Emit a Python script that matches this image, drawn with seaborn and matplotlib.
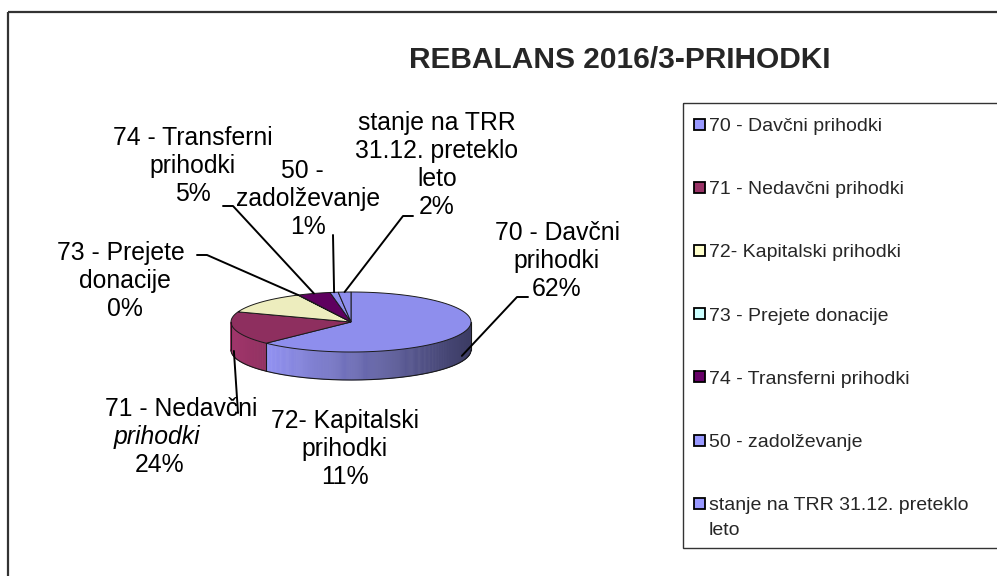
import numpy as np
import matplotlib
matplotlib.use('Agg')
import matplotlib.pyplot as plt
from matplotlib.patches import Polygon, Rectangle
from matplotlib.collections import PolyCollection
import seaborn as sns

# Data
categories = ['70 - Davčni prihodki', '71 - Nedavčni prihodki', '72- Kapitalski prihodki',
              '73 - Prejete donacije', '74 - Transferni prihodki', '50 - zadolževanje',
              'stanje na TRR 31.12. preteklo leto']
slice_share = [62.5, 18.0, 12.2, 0.1, 4.4, 1.1, 1.7]   # size of the drawn slices
shown_pct = [62, 24, 11, 0, 5, 1, 2]                   # percentages printed on labels
slice_colors = ['#9999FF', '#993366', '#FFFFCC', '#CCFFFF', '#660066', '#9999FF', '#9999FF']
label_lines = [['70 - Davčni', 'prihodki'],
               ['71 - Nedavčni', 'prihodki'],
               ['72- Kapitalski', 'prihodki'],
               ['73 - Prejete', 'donacije'],
               ['74 - Transferni', 'prihodki'],
               ['50 -', 'zadolževanje'],
               ['stanje na TRR', '31.12. preteklo', 'leto']]
legend_lines = [['70 - Davčni prihodki'], ['71 - Nedavčni prihodki'], ['72- Kapitalski prihodki'],
                ['73 - Prejete donacije'], ['74 - Transferni prihodki'], ['50 - zadolževanje'],
                ['stanje na TRR 31.12. preteklo', 'leto']]
title = 'REBALANS 2016/3-PRIHODKI'

# Layout (pixel coordinates, y grows downwards)
label_x = [[557], [181, 157, 160], [345], [121, 125, 125], [193], [302, 308, 308], [437]]
label_y0 = [240, 416, 428, 260, 145, 178, 130]
line_step = 28
leader_pts = [[(517, 297), (528, 297)], [(238, 413)], None, [(207, 255), (197, 255)],
              [(233, 206), (223, 206)], [(333, 235)], [(403, 216), (413, 216)]]
cx, cy, rx, ry, depth = 351, 322, 120, 30, 28

sns.set_theme(style='white')
plt.rcParams['font.family'] = ['Liberation Sans', 'DejaVu Sans']

fig = plt.figure(figsize=(9.97, 5.76), dpi=100)
ax = fig.add_axes([0, 0, 1, 1])
ax.set_xlim(0, 997)
ax.set_ylim(576, 0)
ax.axis('off')

colors = sns.color_palette(slice_colors)
fr = np.array(slice_share) / sum(slice_share)
ends = 90 - 360 * np.cumsum(fr)
starts = np.r_[90, ends[:-1]]


def ell(t, dy=0.0):
    t = np.radians(t)
    return cx + rx * np.cos(t), cy - ry * np.sin(t) + dy


def shade(c, f):
    return tuple(min(1, v * f) for v in c)


# side walls (front half only)
polys, fcs = [], []
for i in range(len(fr)):
    t0, t1 = max(ends[i], -180), min(starts[i], 0)
    if t1 <= t0:
        continue
    ts = np.linspace(t0, t1, max(2, int((t1 - t0) * 2)))
    for a, b in zip(ts[:-1], ts[1:]):
        xa, ya = ell(a)
        xb, yb = ell(b)
        polys.append([(xa, ya), (xb, yb), (xb, yb + depth), (xa, ya + depth)])
        f = 0.72 - 0.33 * np.cos(np.radians((a + b) / 2))
        fcs.append(shade(colors[i], f))
ax.add_collection(PolyCollection(polys, facecolors=fcs, edgecolors=fcs, linewidths=0.4))

tb = np.linspace(-180, 0, 200)
bx, by = ell(tb, depth)
ax.plot(bx, by, color='#1a1a1a', lw=0.8)
for t in [-180, 0] + [e for e in ends if -180 < e < 0]:
    x, y = ell(t)
    ax.plot([x, x], [y, y + depth], color='#1a1a1a', lw=0.8)

# top faces
for i in range(len(fr)):
    ts = np.linspace(starts[i], ends[i], max(2, int(abs(starts[i] - ends[i]) * 2)))
    x, y = ell(ts)
    pts = [(cx, cy)] + list(zip(x, y))
    ax.add_patch(Polygon(pts, closed=True, facecolor=shade(colors[i], 0.93),
                         edgecolor='#1a1a1a', lw=0.7))

# data labels with leader lines
for i in range(len(fr)):
    lines = label_lines[i] + [f'{shown_pct[i]}%']
    xs = label_x[i] * len(lines) if len(label_x[i]) == 1 else label_x[i]
    for k, line in enumerate(lines):
        style = 'italic' if (i == 1 and k == 1) else 'normal'
        ax.text(xs[k], label_y0[i] + k * line_step, line, fontsize=17.8, style=style,
                ha='center', va='baseline', color='black')
    if leader_pts[i] is not None:
        mid = (starts[i] + ends[i]) / 2
        dy = depth * 0.8 if np.sin(np.radians(mid)) < 0 else 0
        px, py = ell(mid, dy)
        pts = [(px, py)] + leader_pts[i]
        ax.plot([p[0] for p in pts], [p[1] for p in pts], color='black', lw=1.4)

ax.text(620, 68, title, fontsize=21.5, fontweight='bold', ha='center', va='baseline')

# legend box
ax.add_patch(Rectangle((683, 103), 340, 445, facecolor='none', edgecolor='#333333', lw=1.0))
for i, lines in enumerate(legend_lines):
    yc = 124 + i * 63.2
    ax.add_patch(Rectangle((694, yc - 5.5), 11, 11, facecolor=colors[i],
                           edgecolor='black', lw=1.3))
    for k, line in enumerate(lines):
        ax.text(709, yc + 7 + k * 25, line, fontsize=14, ha='left', va='baseline')

# outer chart frame
ax.add_patch(Rectangle((8, 12), 1020, 600, facecolor='none', edgecolor='#333333', lw=1.6))

fig.savefig('out.png', dpi=100)
